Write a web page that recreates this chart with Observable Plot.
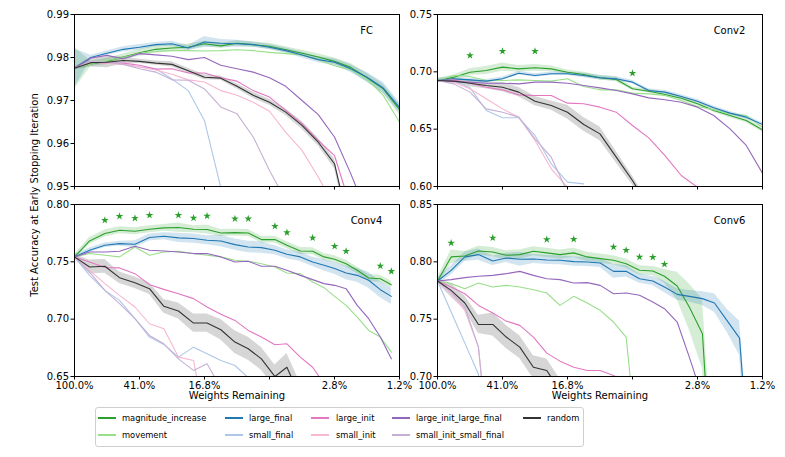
<!DOCTYPE html>
<html><head><meta charset="utf-8">
<script src="https://cdn.jsdelivr.net/npm/d3@7"></script>
<script src="https://cdn.jsdelivr.net/npm/@observablehq/plot@0.6"></script>
<style>
body{margin:0;background:#fff;}
#chart{position:relative;width:785px;height:457px;font-family:"DejaVu Sans",sans-serif;color:#000;}
</style></head><body><div id="chart"></div>
<script>
// ---------- shared ----------
const seriesNames = ["magnitude_increase","movement","large_final","small_final","large_init","small_init","large_init_large_final","small_init_small_final","random"];
const seriesColors = ["#2ca02c","#98df8a","#1f77b4","#aec7e8","#e377c2","#f7b6d2","#9467bd","#c5b0d5","#333333"];
const bandSeries = ["magnitude_increase","large_final","random"];
const xTickValues = [100, 40.96, 16.777, 6.872, 2.815, 1.1529];
const xTickLabels = ["100.0%","41.0%","16.8%","6.9%","2.8%","1.2%"];

// ---------- FC ----------
const fcWeights = [100,80,64,51.2,40.96,32.77,26.21,20.97,16.78,13.42,10.74,8.59,6.872,5.498,4.398,3.518,2.815,2.252,1.801,1.441,1.153];
const fcValues = {
  magnitude_increase: [0.9775,0.9785,0.9791,0.9801,0.9811,0.9819,0.9822,0.9824,0.9832,0.9827,0.9833,0.983,0.9826,0.9818,0.981,0.9801,0.9791,0.9777,0.9753,0.9727,0.9679],
  movement: [0.9775,0.9785,0.9793,0.980,0.981,0.9814,0.9816,0.9816,0.9815,0.9816,0.9818,0.9816,0.9812,0.9809,0.9806,0.9795,0.9781,0.9771,0.975,0.9712,0.965],
  large_final: [0.9775,0.980,0.981,0.9819,0.9824,0.983,0.9832,0.9822,0.9836,0.9833,0.9832,0.983,0.9824,0.9816,0.9806,0.9795,0.9789,0.9774,0.9754,0.9729,0.9684],
  small_final: [0.9775,0.9791,0.9789,0.9785,0.9778,0.9774,0.975,0.9723,0.9653,0.9498,0.935],
  large_init: [0.9775,0.9789,0.9787,0.9787,0.9782,0.9773,0.9774,0.9764,0.9764,0.9753,0.9745,0.9723,0.9708,0.9677,0.9646,0.9607,0.9572,0.9452],
  small_init: [0.9775,0.979,0.9787,0.9784,0.9778,0.9771,0.9761,0.9748,0.9743,0.9723,0.9712,0.9696,0.9675,0.9626,0.9584,0.9522,0.9452],
  large_init_large_final: [0.9775,0.9799,0.9805,0.9797,0.9809,0.9806,0.9803,0.9795,0.980,0.9782,0.9774,0.9766,0.9753,0.9733,0.970,0.9667,0.9615,0.953,0.9436],
  small_init_small_final: [0.9775,0.9789,0.9789,0.9784,0.9774,0.9766,0.9748,0.9747,0.9727,0.9685,0.9669,0.9615,0.9537,0.9468],
  random: [0.9775,0.9788,0.9789,0.9793,0.9791,0.9787,0.9784,0.9769,0.9754,0.9752,0.9733,0.9712,0.9696,0.9673,0.9642,0.9603,0.9553,0.939]
};
const fcSpread = {
  magnitude_increase: [0.0048,0.0006,0.0007,0.0007,0.0008,0.0009,0.0008,0.0007,0.0006,0.0006,0.0006,0.0006,0.0007,0.0007,0.0007,0.0008,0.0008,0.0009,0.001,0.0011,0.0012],
  large_final: [0.0045,0.0005,0.0005,0.0006,0.0006,0.0005,0.0006,0.0006,0.0013,0.0009,0.0008,0.0006,0.0006,0.0006,0.0007,0.0007,0.0008,0.0009,0.0011,0.0013,0.0012],
  random: [0.0003,0.001,0.0013,0.0008,0.0005,0.0005,0.0006,0.0006,0.0006,0.0005,0.0006,0.0007,0.0007,0.0008,0.0009,0.0009,0.0011,0.0012]
};

// ---------- Conv2 ----------
const conv2Weights = [100,80,64,51.2,40.96,32.77,26.21,20.97,16.78,13.42,10.74,8.59,6.872,5.498,4.398,3.518,2.815,2.252,1.801,1.441,1.153];
const conv2Values = {
  magnitude_increase: [0.6924,0.6953,0.6997,0.7012,0.7041,0.7026,0.7035,0.7026,0.6997,0.6977,0.6948,0.6933,0.6852,0.6831,0.6802,0.677,0.6721,0.6663,0.6619,0.6576,0.6494],
  movement: [0.6924,0.6968,0.696,0.6924,0.6924,0.693,0.6924,0.6919,0.6939,0.6872,0.6843,0.6843,0.6814,0.6808,0.6794,0.675,0.6698,0.6669,0.6634,0.6619,0.6517],
  large_final: [0.6924,0.6939,0.693,0.6919,0.6939,0.6988,0.6968,0.6983,0.6983,0.6968,0.6948,0.6939,0.691,0.6837,0.6823,0.6785,0.6744,0.6686,0.664,0.6605,0.6541],
  small_final: [0.6924,0.6924,0.6862,0.6663,0.6599,0.6599,0.6445,0.6198,0.6038,0.6023],
  large_init: [0.6924,0.693,0.6901,0.6866,0.6843,0.6799,0.6794,0.6794,0.6727,0.6721,0.6692,0.6648,0.6532,0.6424,0.627,0.6096,0.5994],
  small_init: [0.6924,0.691,0.6852,0.6765,0.6677,0.6605,0.6401,0.6154,0.5994],
  large_init_large_final: [0.6924,0.6916,0.691,0.6901,0.6901,0.6895,0.691,0.691,0.6901,0.6881,0.686,0.6837,0.6808,0.6773,0.6756,0.6735,0.6692,0.6619,0.6503,0.6358,0.6116],
  small_init_small_final: [0.6924,0.6895,0.6823,0.6677,0.6648,0.6605,0.6416,0.6256,0.595],
  random: [0.6924,0.6919,0.6901,0.6881,0.6866,0.6823,0.6744,0.6706,0.6648,0.6541,0.6459,0.6256,0.6052,0.582]
};
const conv2Spread = {
  magnitude_increase: [0.002,0.002,0.003,0.0035,0.0035,0.003,0.003,0.0025,0.002,0.002,0.002,0.002,0.0015,0.0015,0.0015,0.0015,0.0015,0.0015,0.002,0.002,0.002],
  large_final: [0.002,0.0015,0.0015,0.0015,0.0015,0.0015,0.0015,0.0015,0.0015,0.002,0.002,0.002,0.0015,0.0015,0.0015,0.0015,0.0015,0.0015,0.0015,0.0015,0.0015],
  random: [0.001,0.002,0.003,0.003,0.004,0.004,0.004,0.004,0.006,0.006,0.006,0.005,0.004,0.004]
};
const conv2StarX = [64, 40.96, 26.21, 6.872];
const conv2StarY = [0.7142, 0.718, 0.718, 0.6988];

// ---------- Conv4 ----------
const conv4Weights = [100,81.3,65.9,53.9,43.6,35.7,29.3,24.0,19.5,16.2,13.4,11.05,9.20,7.68,6.38,5.41,4.50,3.80,3.25,2.81,2.40,2.06,1.76,1.50,1.29];
const conv4Values = {
  magnitude_increase: [0.7543,0.7682,0.7747,0.7776,0.7767,0.7784,0.7796,0.7799,0.7784,0.7782,0.7752,0.7755,0.7752,0.7694,0.7694,0.7645,0.7595,0.7592,0.7543,0.7522,0.7484,0.7426,0.7359,0.7353,0.7301],
  movement: [0.7543,0.7572,0.7557,0.7543,0.763,0.7557,0.7586,0.7592,0.7572,0.7557,0.7543,0.7514,0.7505,0.7484,0.7455,0.7403,0.7397,0.7324,0.7275,0.7199,0.712,0.7018,0.6902,0.6844,0.6712],
  large_final: [0.7543,0.7601,0.7645,0.7659,0.7653,0.7712,0.7723,0.7709,0.7703,0.7688,0.7682,0.765,0.763,0.7624,0.7601,0.7566,0.7543,0.7499,0.747,0.7441,0.7403,0.7382,0.7339,0.7257,0.7199],
  small_final: [0.7543,0.7382,0.7251,0.7164,0.7004,0.6844,0.678,0.6669,0.6756,0.6698,0.664,0.6596,0.649],
  large_init: [0.7543,0.7499,0.745,0.7447,0.7397,0.7301,0.726,0.7222,0.7179,0.7106,0.7042,0.6989,0.6902,0.6844,0.6777,0.6785,0.6669,0.6581,0.6436],
  small_init: [0.7543,0.7426,0.731,0.7208,0.7106,0.696,0.6916,0.6669,0.664,0.60],
  large_init_large_final: [0.7543,0.7586,0.7586,0.7592,0.7636,0.7601,0.7595,0.7586,0.7572,0.7572,0.7543,0.7499,0.7505,0.7461,0.7461,0.7426,0.7382,0.7345,0.731,0.7295,0.7266,0.712,0.7004,0.6844,0.6654],
  small_init_small_final: [0.7543,0.7411,0.7251,0.7135,0.7004,0.6858,0.6785,0.6654,0.6553,0.6611,0.64],
  random: [0.7543,0.7455,0.7461,0.7362,0.7318,0.7266,0.7112,0.7071,0.6966,0.6966,0.6908,0.68,0.6742,0.6654,0.65,0.6581,0.632]
};
const conv4Spread = {
  magnitude_increase: [0.002,0.003,0.003,0.003,0.003,0.003,0.003,0.004,0.003,0.004,0.003,0.003,0.003,0.003,0.003,0.003,0.003,0.003,0.003,0.003,0.003,0.003,0.003,0.003,0.003],
  large_final: [0.002,0.002,0.002,0.002,0.003,0.003,0.003,0.004,0.004,0.004,0.005,0.005,0.005,0.005,0.004,0.004,0.004,0.004,0.005,0.005,0.006,0.006,0.007,0.007,0.007],
  random: [0.002,0.006,0.006,0.005,0.005,0.005,0.006,0.007,0.008,0.008,0.009,0.01,0.01,0.01,0.01,0.012,0.012]
};
const conv4StarX = [65.9,53.9,43.6,35.7,24.0,19.5,16.2,11.05,9.20,6.38,5.41,3.80,2.81,2.40,1.50,1.29];
const conv4StarY = [0.7863,0.7898,0.7881,0.7907,0.7907,0.7883,0.79,0.7875,0.7875,0.7811,0.7755,0.7709,0.7636,0.7592,0.7464,0.7417];

// ---------- Conv6 ----------
const conv6Weights = [100,82.9,68.7,57.0,46.8,38.9,32.3,26.8,22.3,18.6,15.4,12.8,10.7,8.92,7.50,6.24,5.20,4.43,3.72,3.15,2.63,2.23,1.88,1.58,1.35];
const conv6Values = {
  magnitude_increase: [0.7833,0.8043,0.8051,0.8095,0.8086,0.8057,0.8063,0.8092,0.8078,0.8063,0.8078,0.8043,0.8028,0.8014,0.7984,0.7926,0.792,0.7874,0.7789,0.7606,0.7373,0.57],
  movement: [0.7833,0.781,0.7766,0.7816,0.7781,0.7795,0.7781,0.7757,0.7728,0.762,0.7699,0.7641,0.7577,0.7475,0.7344,0.62],
  large_final: [0.7833,0.7926,0.8043,0.8063,0.8008,0.8034,0.8022,0.8025,0.8016,0.8014,0.8002,0.7999,0.799,0.7917,0.7917,0.7853,0.7833,0.7781,0.7716,0.7699,0.7679,0.7641,0.7489,0.7335,0.60],
  small_final: [0.7833,0.7562,0.7291,0.702,0.60],
  large_init: [0.7833,0.7781,0.7722,0.762,0.7553,0.7483,0.7446,0.7344,0.7204,0.7134,0.7081,0.7052,0.7052,0.7009,0.695],
  small_init: [0.7833,0.7722,0.7577,0.7256,0.60],
  large_init_large_final: [0.7833,0.7845,0.7862,0.7874,0.7882,0.7897,0.7917,0.7882,0.7853,0.7845,0.7816,0.7819,0.7795,0.7722,0.7728,0.7708,0.765,0.7591,0.7475,0.7169,0.682],
  small_init_small_final: [0.7833,0.7737,0.7606,0.7256,0.60],
  random: [0.7833,0.7751,0.7641,0.7454,0.7454,0.7344,0.7256,0.7081,0.7052,0.6877]
};
const conv6Spread = {
  magnitude_increase: [0.003,0.006,0.004,0.004,0.004,0.004,0.004,0.004,0.004,0.004,0.004,0.004,0.004,0.004,0.004,0.004,0.004,0.006,0.012,0.02,0.03,0.04],
  large_final: [0.003,0.004,0.004,0.005,0.004,0.004,0.006,0.004,0.004,0.004,0.004,0.004,0.004,0.006,0.005,0.004,0.004,0.005,0.005,0.005,0.006,0.008,0.01,0.015,0.02],
  random: [0.002,0.006,0.006,0.008,0.01,0.01,0.01,0.01,0.01,0.01]
};
const conv6StarX = [82.9,46.8,22.3,15.4,8.92,7.50,6.24,5.20,4.43];
const conv6StarY = [0.8165,0.8209,0.8194,0.8197,0.813,0.8101,0.8043,0.804,0.7979];

// ---------- drawing ----------
const chart = document.getElementById("chart");
const fmt2 = d3.format(".2f");

function panel({title, weights, values, spread, starX, starY, yDomain, yTicks, bottom, left, top}) {
  const rows = [];
  for (const name of seriesNames) {
    const v = values[name];
    v.forEach((y, i) => rows.push({series: name, x: weights[i], y}));
  }
  const bands = [];
  for (const name of bandSeries) {
    const v = values[name], s = spread[name];
    const n = Math.min(v.length, s.length);
    for (let i = 0; i < n; i++) bands.push({series: name, x: weights[i], lo: v[i] - s[i], hi: v[i] + s[i]});
  }
  const stars = (starX || []).map((x, i) => ({x, y: starY[i]}));
  const height = bottom ? 215 : 200;
  const marginBottom = height - 14 - 172;
  const marks = [
    Plot.areaY(bands, {x: "x", y1: "lo", y2: "hi", z: "series", fill: "series", fillOpacity: 0.2, clip: true}),
    Plot.line(rows, {x: "x", y: "y", z: "series", stroke: "series", strokeWidth: 1.1, clip: true}),
    Plot.dot(stars, {x: "x", y: "y", symbol: "star", fill: "#2ca02c", stroke: "none", r: 2.4}),
    Plot.frame({stroke: "black", strokeWidth: 1}),
    Plot.axisY({ticks: yTicks, tickFormat: fmt2, tickSize: 3.5, tickPadding: 2, label: null}),
    Plot.axisX({ticks: xTickValues, tickFormat: bottom ? (d => xTickLabels[xTickValues.indexOf(d)]) : (() => ""), tickSize: 3.5, tickPadding: 1.5, label: null}),
    Plot.text([title], {text: d => d, frameAnchor: "top-right", dx: -33, dy: 16, textAnchor: "middle", lineAnchor: "middle", fontSize: 10})
  ];
  if (bottom) marks.push(Plot.text(["Weights Remaining"], {text: d => d, frameAnchor: "bottom", dy: 19, lineAnchor: "middle", fontSize: 10}));
  const svg = Plot.plot({
    width: 370, height, marginLeft: 40, marginRight: 5, marginTop: 14, marginBottom,
    style: {background: "transparent", fontFamily: "DejaVu Sans, sans-serif", fontSize: "10px", color: "black", position: "absolute", left: left + "px", top: top + "px", maxWidth: "none", overflow: "visible"},
    x: {type: "log", domain: [100, 1.1529]},
    y: {domain: yDomain},
    color: {domain: seriesNames, range: seriesColors},
    marks
  });
  chart.appendChild(svg);
}

panel({title: "FC", weights: fcWeights, values: fcValues, spread: fcSpread, yDomain: [0.95, 0.99], yTicks: [0.95,0.96,0.97,0.98,0.99], bottom: false, left: 34, top: 0});
panel({title: "Conv2", weights: conv2Weights, values: conv2Values, spread: conv2Spread, starX: conv2StarX, starY: conv2StarY, yDomain: [0.60, 0.75], yTicks: [0.60,0.65,0.70,0.75], bottom: false, left: 397, top: 0});
panel({title: "Conv4", weights: conv4Weights, values: conv4Values, spread: conv4Spread, starX: conv4StarX, starY: conv4StarY, yDomain: [0.65, 0.80], yTicks: [0.65,0.70,0.75,0.80], bottom: true, left: 34, top: 190});
panel({title: "Conv6", weights: conv6Weights, values: conv6Values, spread: conv6Spread, starX: conv6StarX, starY: conv6StarY, yDomain: [0.70, 0.85], yTicks: [0.70,0.75,0.80,0.85], bottom: true, left: 397, top: 190});

// y-axis title
const ylab = document.createElement("div");
ylab.textContent = "Test Accuracy at Early Stopping Iteration";
Object.assign(ylab.style, {position: "absolute", left: "34px", top: "195px", transform: "translate(-50%,-50%) rotate(-90deg)", whiteSpace: "nowrap", fontSize: "10px"});
chart.appendChild(ylab);

// legend
const legendCols = [[98,122],[225,249],[311,336],[392,416],[523,547]];
const legendRows = [418, 435];
const legend = document.createElement("div");
Object.assign(legend.style, {position: "absolute", left: "95px", top: "407px", width: "487px", height: "38px", border: "1px solid #cfcfcf", borderRadius: "3px", background: "white"});
chart.appendChild(legend);
seriesNames.forEach((name, i) => {
  const col = Math.floor(i / 2), row = i % 2;
  const [lx, tx] = legendCols[col];
  const y = legendRows[row];
  const line = document.createElement("div");
  Object.assign(line.style, {position: "absolute", left: lx + "px", top: (y - 1) + "px", width: "18px", height: "1.5px", background: seriesColors[i]});
  chart.appendChild(line);
  const t = document.createElement("div");
  t.textContent = name;
  Object.assign(t.style, {position: "absolute", left: tx + "px", top: y + "px", transform: "translateY(-50%)", fontSize: "8.33px", whiteSpace: "nowrap"});
  chart.appendChild(t);
});
</script></body></html>
